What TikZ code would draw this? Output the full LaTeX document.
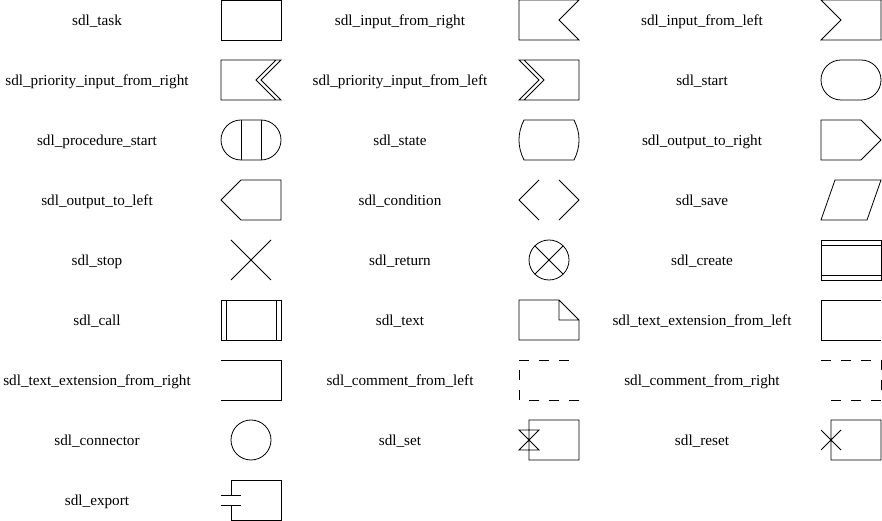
\documentclass[tikz,border=0pt]{standalone}
\usepackage{fontspec}
\setmainfont{Liberation Serif}
\usepackage{tikz}

\begin{document}
\begin{tikzpicture}[x=1pt,y=1pt,
    sym/.style={draw=black,line width=0.8pt},
    lbl/.style={anchor=base,inner sep=0pt,font=\fontsize{15.2}{18}\selectfont},
    cmt/.style={sym,dash pattern=on 10pt off 10pt}]
    \useasboundingbox (0,0) rectangle (882,521);
    % labels
    \node[lbl] (Ltask) at (97,495.5) {sdl\_task};
    \node[lbl] (Linright) at (400,495.5) {sdl\_input\_from\_right};
    \node[lbl] (Linleft) at (702,495.5) {sdl\_input\_from\_left};
    \node[lbl] (Lprioright) at (97,435.5) {sdl\_priority\_input\_from\_right};
    \node[lbl] (Lprioleft) at (400,435.5) {sdl\_priority\_input\_from\_left};
    \node[lbl] (Lstart) at (702,435.5) {sdl\_start};
    \node[lbl] (Lprocstart) at (97,375.5) {sdl\_procedure\_start};
    \node[lbl] (Lstate) at (400,375.5) {sdl\_state};
    \node[lbl] (Loutright) at (702,375.5) {sdl\_output\_to\_right};
    \node[lbl] (Loutleft) at (97,315.5) {sdl\_output\_to\_left};
    \node[lbl] (Lcond) at (400,315.5) {sdl\_condition};
    \node[lbl] (Lsave) at (702,315.5) {sdl\_save};
    \node[lbl] (Lstop) at (97,255.5) {sdl\_stop};
    \node[lbl] (Lreturn) at (400,255.5) {sdl\_return};
    \node[lbl] (Lcreate) at (702,255.5) {sdl\_create};
    \node[lbl] (Lcall) at (97,195.5) {sdl\_call};
    \node[lbl] (Ltext) at (400,195.5) {sdl\_text};
    \node[lbl] (Lextleft) at (702,195.5) {sdl\_text\_extension\_from\_left};
    \node[lbl] (Lextright) at (97,135.5) {sdl\_text\_extension\_from\_right};
    \node[lbl] (Lcmtleft) at (400,135.5) {sdl\_comment\_from\_left};
    \node[lbl] (Lcmtright) at (702,135.5) {sdl\_comment\_from\_right};
    \node[lbl] (Lconn) at (97,75.5) {sdl\_connector};
    \node[lbl] (Lset) at (400,75.5) {sdl\_set};
    \node[lbl] (Lreset) at (702,75.5) {sdl\_reset};
    \node[lbl] (Lexport) at (97,15.5) {sdl\_export};
    % row 1
    \draw[sym,shift={(221,481)}] (0,0) rectangle (60,40);
    \draw[sym,shift={(519,481)}] (0,0) -- (60,0) -- (40,20) -- (60,40) -- (0,40) -- cycle;
    \draw[sym,shift={(821,481)}] (0,0) -- (60,0) -- (60,40) -- (0,40) -- (20,20) -- cycle;
    % row 2
    \draw[sym,shift={(221,421)}] (0,0) -- (60,0) -- (40,20) -- (60,40) -- (0,40) -- cycle
        (55,0) -- (35,20) -- (55,40);
    \draw[sym,shift={(519,421)}] (0,0) -- (60,0) -- (60,40) -- (0,40) -- (20,20) -- cycle
        (5,0) -- (25,20) -- (5,40);
    \draw[sym,rounded corners=20pt,shift={(821,421)}] (0,0) rectangle (60,40);
    % row 3
    \draw[sym,rounded corners=20pt,shift={(221,361)}] (0,0) rectangle (60,40);
    \draw[sym,shift={(221,361)}] (20,0) -- (20,40) (40,0) -- (40,40);
    \draw[sym,shift={(519,361)}] (5,0) -- (55,0) .. controls (61.7,13.3) and (61.7,26.7) .. (55,40)
        -- (5,40) .. controls (-1.7,26.7) and (-1.7,13.3) .. (5,0) -- cycle;
    \draw[sym,shift={(821,361)}] (0,0) -- (40,0) -- (60,20) -- (40,40) -- (0,40) -- cycle;
    % row 4
    \draw[sym,shift={(221,301)}] (20,0) -- (60,0) -- (60,40) -- (20,40) -- (0,20) -- cycle;
    \draw[sym,shift={(519,301)}] (20,40) -- (0,20) -- (20,0) (40,40) -- (60,20) -- (40,0);
    \draw[sym,shift={(821,301)}] (0,0) -- (46,0) -- (60,40) -- (14,40) -- cycle;
    % row 5
    \draw[sym,shift={(221,241)}] (10,0) -- (50,40) (10,40) -- (50,0);
    \draw[sym,shift={(519,241)}] (30,20) circle (20)
        (44.14,34.14) -- (15.86,5.86) (15.86,34.14) -- (44.14,5.86);
    \draw[sym,shift={(821,241)}] (0,0) rectangle (60,40) (0,5) -- (60,5) (0,35) -- (60,35);
    % row 6
    \draw[sym,shift={(221,181)}] (0,0) rectangle (60,40) (5,0) -- (5,40) (55,0) -- (55,40);
    \draw[sym,shift={(519,181)}] (0,0) -- (60,0) -- (60,20) -- (40,40) -- (0,40) -- cycle
        (40,40) -- (40,20) -- (60,20);
    \draw[sym,shift={(821,181)}] (60,40) -- (0,40) -- (0,0) -- (60,0);
    % row 7
    \draw[sym,shift={(221,121)}] (0,40) -- (60,40) -- (60,0) -- (0,0);
    \draw[cmt,shift={(519,121)}] (60,0) -- (0,0) -- (0,40) -- (60,40);
    \draw[cmt,shift={(821,121)}] (0,40) -- (60,40) -- (60,0) -- (0,0);
    % row 8
    \draw[sym,shift={(221,61)}] (30,20) circle (20);
    \draw[sym,shift={(519,61)}] (10,0) rectangle (60,40)
        (0,30) -- (20,30) -- (0,10) -- (20,10) -- cycle;
    \draw[sym,shift={(821,61)}] (10,0) rectangle (60,40) (0,30) -- (20,10) (0,10) -- (20,30);
    % row 9
    \draw[sym,shift={(221,1)}] (10,25) -- (10,40) -- (60,40) -- (60,0) -- (10,0) -- (10,15)
        (0,25) -- (20,25) (0,15) -- (20,15);
\end{tikzpicture}
\end{document}
